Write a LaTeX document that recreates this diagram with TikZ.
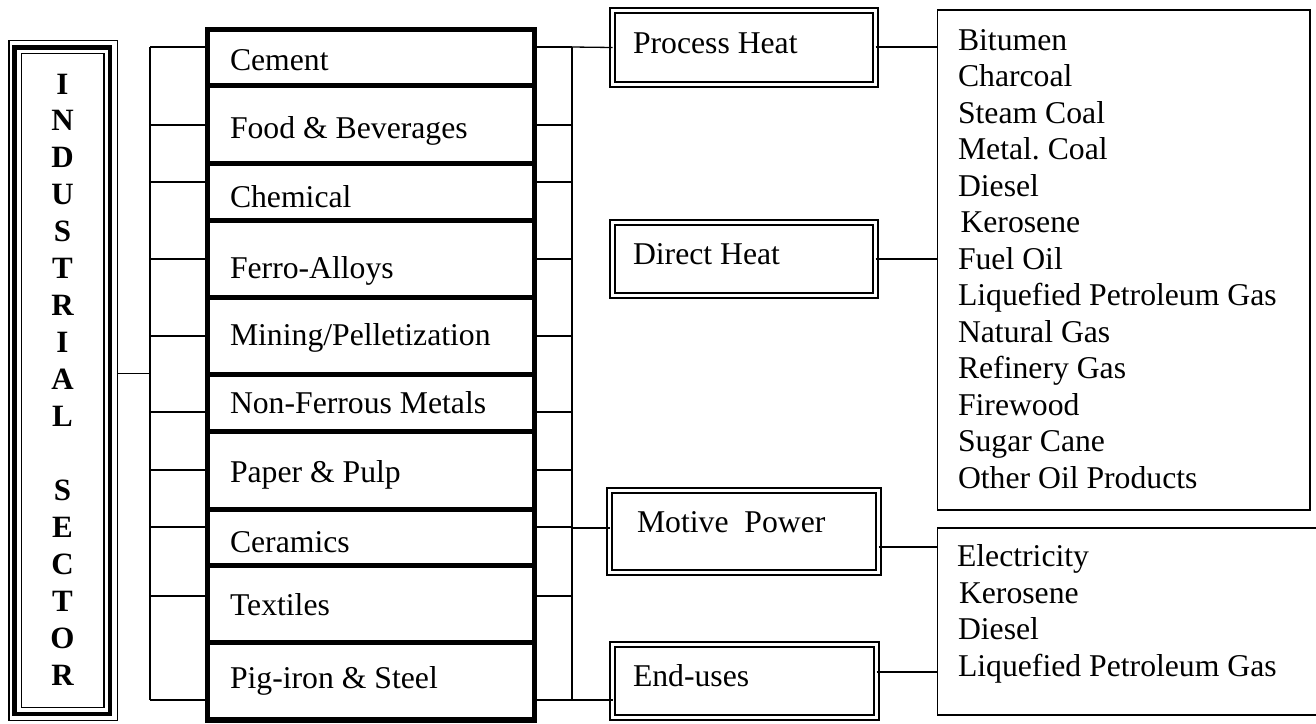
\documentclass[tikz,border=0pt]{standalone}
\usepackage{fontspec}
\setmainfont{Liberation Serif}
\usetikzlibrary{calc}
\frenchspacing
\begin{document}
\begin{tikzpicture}[x=1pt,y=-1pt,
  every node/.style={font=\fontsize{31.7}{36.5}\selectfont\frenchspacing},
  txt/.style={inner sep=0, outer sep=0, anchor=base west},
  letter/.style={inner sep=0, outer sep=0, anchor=base, font=\fontsize{31}{36.9}\selectfont\bfseries},
  secbox/.style={draw, line width=5.5, minimum width=327, minimum height=#1, inner sep=0, outer sep=0},
  dbox/.style={draw, double, double distance=3, line width=2.2, inner sep=0, outer sep=0},
  lbox/.style={draw, line width=1.5, inner sep=0, outer sep=0},
  conn/.style={line width=1.3}]
\clip (0,0) rectangle (1316,723);
\fill[white] (0,0) rectangle (1316,723);

% ---- Industrial sector box (triple border)
\node[draw, line width=1.2, minimum width=108.5, minimum height=680, inner sep=0, outer sep=0] (ind) at (63.25,380.5) {};
\draw[line width=4.2] ($(ind.north west)+(5.5,7)$) rectangle ($(ind.south east)+(-7.5,-6.5)$);
\draw[line width=1.2] ($(ind.north west)+(12.5,13)$) rectangle ($(ind.south east)+(-13.5,-13)$);
\foreach \L [count=\i from 0] in {I,N,D,U,S,T,R,I,A,L,{},S,E,C,T,O,R}
  \node[letter] (l\i) at (62.5,{94+36.94*\i}) {\L};

% ---- buses
\coordinate (busLa) at (150,47);
\coordinate (busLb) at (150,700);
\coordinate (busRa) at (572,47);
\coordinate (busRb) at (572,700);
\draw[conn] (busLa) -- (busLb);
\draw[conn] (busRa) -- (busRb);
\coordinate (ic) at ($(ind.east)+(0,-7)$);
\draw[conn] (ic) -- (ic -| busLa);

% ---- sector boxes
\node[secbox=56]   (cement)   at (371,57.5)   {};
\node[secbox=78]   (food)     at (371,124.5)  {};
\node[secbox=57]   (chem)     at (371,192)    {};
\node[secbox=77]   (ferro)    at (371,259)    {};
\node[secbox=77]   (mining)   at (371,336)    {};
\node[secbox=57]   (nonfer)   at (371,403)    {};
\node[secbox=78]   (paper)    at (371,470.5)  {};
\node[secbox=56]   (ceram)    at (371,537.5)  {};
\node[secbox=77]   (textiles) at (371,604)    {};
\node[secbox=77.5] (pig)      at (371,681.25) {};

\node[txt] (tcement)   at (230,70)  {Cement};
\node[txt] (tfood)     at (230,138) {Food \& Beverages};
\node[txt] (tchem)     at (230,207) {Chemical};
\node[txt] (tferro)    at (230,278) {Ferro-Alloys};
\node[txt] (tmining)   at (230,345) {Mining/Pelletization};
\node[txt] (tnonfer)   at (230,413) {Non-Ferrous Metals};
\node[txt] (tpaper)    at (230,482) {Paper \& Pulp};
\node[txt] (tceram)    at (230,552) {Ceramics};
\node[txt] (ttextiles) at (230,615) {Textiles};
\node[txt] (tpig)      at (230,688) {Pig-iron \& Steel};

% ---- ticks from buses to sectors
\foreach \n/\y in {cement/47,food/125,chem/182,ferro/259,mining/336,nonfer/412,paper/470,ceram/527,textiles/596,pig/700}{
  \coordinate (tl) at (150,\y);
  \coordinate (tr) at (572,\y);
  \draw[conn] (tl) -- (tl -| \n.west);
  \draw[conn] (tr) -- (tr -| \n.east);
}

% ---- end-use boxes
\node[dbox, minimum width=263, minimum height=74] (ph) at (744,47.5)  {};
\node[dbox, minimum width=263, minimum height=73] (dh) at (744,259)   {};
\node[dbox, minimum width=269, minimum height=82] (mp) at (744,531.5) {};
\node[dbox, minimum width=264, minimum height=73] (eu) at (744.5,681) {};
\node[txt] (tph) at (633,53)  {Process Heat};
\node[txt] (tdh) at (633,264) {Direct Heat};
\node[txt] (tmp) at (637,532) {Motive~ Power};
\node[txt] (teu) at (633,686) {End-uses};

\draw[conn] (busRa) -- (ph.west);
\draw[conn] (ph.west |- dh.west) -- (dh.west);
\coordinate (mpc) at (572,528);
\draw[conn] (mpc) -- (mpc -| mp.west);
\draw[conn] (busRb) -- (busRb -| eu.west);

% ---- fuel lists
\node[lbox, minimum width=372.5, minimum height=500] (fl1) at (1123.75,260) {};
\node[lbox, minimum width=392.5, minimum height=187] (fl2) at (1133.75,621.5) {};

\foreach \t/\y/\dx [count=\i] in {Bitumen/50/0, Charcoal/86.5/0, Steam Coal/123/0, Metal. Coal/159.5/0, Diesel/196/0, Kerosene/232.5/2.5, Fuel Oil/269/0, Liquefied Petroleum Gas/305.5/0, Natural Gas/342/0, Refinery Gas/378.5/0, Firewood/415/0, Sugar Cane/451.5/0, Other Oil Products/488/0}
  \node[txt] (fa\i) at (958+\dx,\y) {\t};
\foreach \t/\y/\dx [count=\i] in {Electricity/566/-1, Kerosene/603/1, Diesel/639.5/0, Liquefied Petroleum Gas/676/0}
  \node[txt] (fb\i) at (958+\dx,\y) {\t};

\coordinate (c1) at (0,47);
\coordinate (c2) at (0,259);
\coordinate (c3) at (0,547);
\coordinate (c4) at (0,672);
\draw[conn] (c1 -| ph.east) -- (c1 -| fl1.west);
\draw[conn] (c2 -| dh.east) -- (c2 -| fl1.west);
\draw[conn] (c3 -| mp.east) -- (c3 -| fl2.west);
\draw[conn] (c4 -| eu.east) -- (c4 -| fl2.west);
\end{tikzpicture}
\end{document}
